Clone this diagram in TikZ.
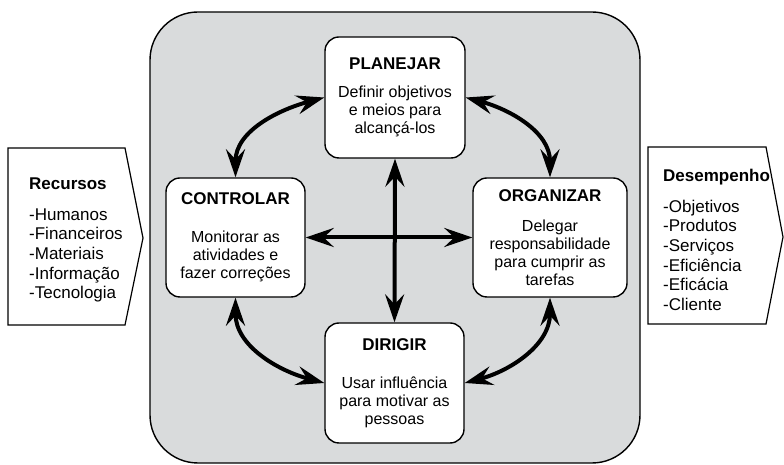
\documentclass[tikz,border=0pt]{standalone}
\usepackage{fontspec}
\setmainfont{Liberation Sans}
\usetikzlibrary{arrows.meta}
\definecolor{panel}{RGB}{217,219,220}
\newcommand{\titulo}[1]{{\fontsize{17}{18}\selectfont\bfseries #1}}

\begin{document}
\begin{tikzpicture}[x=1pt,y=1pt,
  box/.style={draw, line width=1.4pt, fill=white, rounded corners=14pt, align=center, inner sep=0pt, font=\fontsize{16}{18}\selectfont},
  arr/.style={line width=4pt, {Stealth[length=28pt,width=19pt,inset=10pt]}-{Stealth[length=28pt,width=19pt,inset=10pt]}},
  lst/.style={align=left, anchor=west, inner sep=0pt, font=\fontsize{17}{19.7}\selectfont}]
\useasboundingbox (0,0) rectangle (784,465);
\draw[line width=1.4pt, fill=panel, rounded corners=48pt] (150,2) rectangle (640,453);
% entradas e saidas
\draw[line width=1.2pt] (8,317)--(125,317)--(143,227)--(125,140)--(8,140)--cycle;
\draw[line width=1.2pt] (648,318)--(766,318)--(783,228)--(766,141)--(648,141)--cycle;
\node[lst] (rec) at (29,225) {\textbf{Recursos}\\[11pt]-Humanos\\-Financeiros\\-Materiais\\-Informação\\-Tecnologia};
\node[lst] (des) at (663,225) {\textbf{Desempenho}\\[11pt]-Objetivos\\-Produtos\\-Serviços\\-Eficiência\\-Eficácia\\-Cliente};
% funcoes
\node[box, minimum width=140pt, minimum height=121pt] (plan) at (395,367.5) {\titulo{PLANEJAR}\\[10pt]Definir objetivos\\e meios para\\alcançá-los};
\node[box, minimum width=139pt, minimum height=119pt] (ctrl) at (235.5,227.5) {\titulo{CONTROLAR}\\[20pt]Monitorar as\\atividades e\\fazer correções};
\node[box, minimum width=154pt, minimum height=119pt] (org) at (550,227.5) {\titulo{ORGANIZAR}\\[12pt]Delegar\\responsabilidade\\para cumprir as\\tarefas};
\node[box, minimum width=139pt, minimum height=120pt] (dir) at (394.5,82) {\titulo{DIRIGIR}\\[20pt]Usar influência\\para motivar as\\pessoas};
% setas
\draw[arr] (plan.west) to[out=195,in=90] (ctrl.north);
\draw[arr] (plan.east) to[out=-15,in=90] (org.north);
\draw[arr] (ctrl.south) to[out=-90,in=165] (dir.west);
\draw[arr] (org.south) to[out=-90,in=15] (dir.east);
\draw[arr] (plan.south) -- (dir.north);
\draw[arr] (ctrl.east) -- (org.west);
\end{tikzpicture}
\end{document}
